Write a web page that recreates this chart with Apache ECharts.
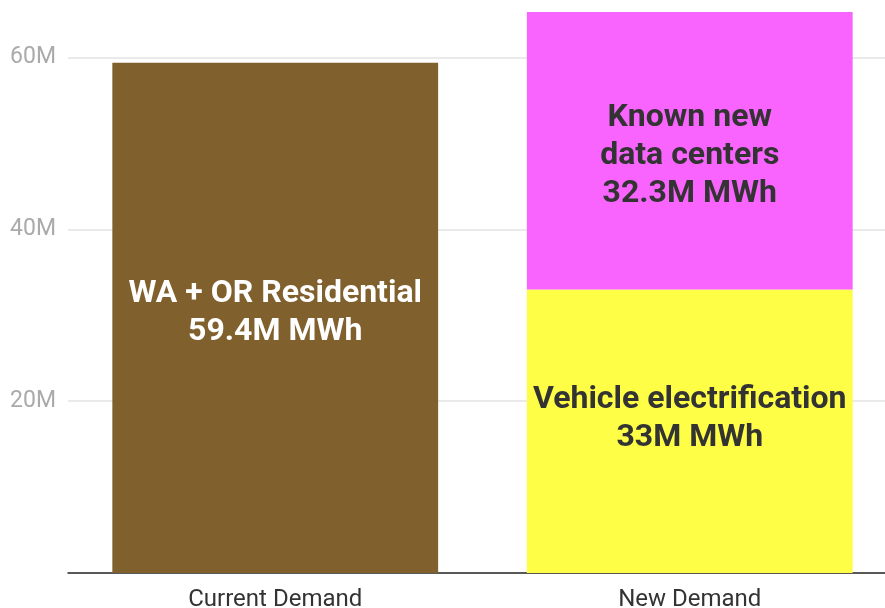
<!DOCTYPE html>
<html>
<head>
<meta charset="utf-8">
<script src="https://cdn.jsdelivr.net/npm/echarts@6/dist/echarts.min.js"></script>
<style>
    html, body { margin: 0; padding: 0; background: #fff; }
    #chart { width: 885px; height: 608px; }
</style>
</head>
<body>
<div id="chart"></div>
<script>
const categories = ['Current Demand', 'New Demand'];
const residential = [59.4e6, '-'];
const vehicles = ['-', 33e6];
const dataCenters = ['-', 32.3e6];
const labelTexts = {
    residential: 'WA + OR Residential\n59.4M MWh',
    vehicles: 'Vehicle electrification\n33M MWh',
    dataCenters: 'Known new\ndata centers\n32.3M MWh'
};

const chart = echarts.init(document.getElementById('chart'));

function barLabel(text, color, dy) {
    return {
        show: true,
        position: 'inside',
        offset: [0, dy],
        formatter: () => text,
        color: color,
        fontFamily: 'Roboto',
        fontWeight: 'bold',
        fontSize: 32,
        lineHeight: 38,
        align: 'center'
    };
}

chart.setOption({
    animation: false,
    grid: {
        left: 68,
        width: 829,
        top: 12,
        bottom: 35,
        outerBoundsMode: 'none'
    },
    xAxis: {
        type: 'category',
        data: categories,
        axisTick: { show: false },
        axisLine: { lineStyle: { color: '#222', width: 1.5 } },
        axisLabel: {
            color: '#333',
            fontFamily: 'Roboto',
            fontSize: 24,
            margin: 15
        }
    },
    yAxis: {
        type: 'value',
        min: 0,
        max: 65.3e6,
        interval: 20e6,
        axisLine: { show: false },
        axisTick: { show: false },
        axisLabel: {
            color: '#aaa',
            fontFamily: 'Roboto',
            fontSize: 23,
            margin: 12,
            showMinLabel: false,
            showMaxLabel: false,
            formatter: v => (v / 1e6) + 'M'
        },
        splitLine: {
            showMinLine: false,
            showMaxLine: false,
            lineStyle: { color: '#e3e3e3', width: 1.5 }
        }
    },
    series: [
        {
            name: 'Residential',
            type: 'bar',
            stack: 'total',
            barCategoryGap: '21.4%',
            data: residential,
            itemStyle: { color: '#80602c' },
            label: barLabel(labelTexts.residential, '#fff', -5)
        },
        {
            name: 'Vehicle electrification',
            type: 'bar',
            stack: 'total',
            data: vehicles,
            itemStyle: { color: '#fefe46' },
            label: barLabel(labelTexts.vehicles, '#333', -12)
        },
        {
            name: 'Known new data centers',
            type: 'bar',
            stack: 'total',
            data: dataCenters,
            itemStyle: { color: '#f964fe' },
            label: barLabel(labelTexts.dataCenters, '#333', 5)
        }
    ]
});
</script>
</body>
</html>
